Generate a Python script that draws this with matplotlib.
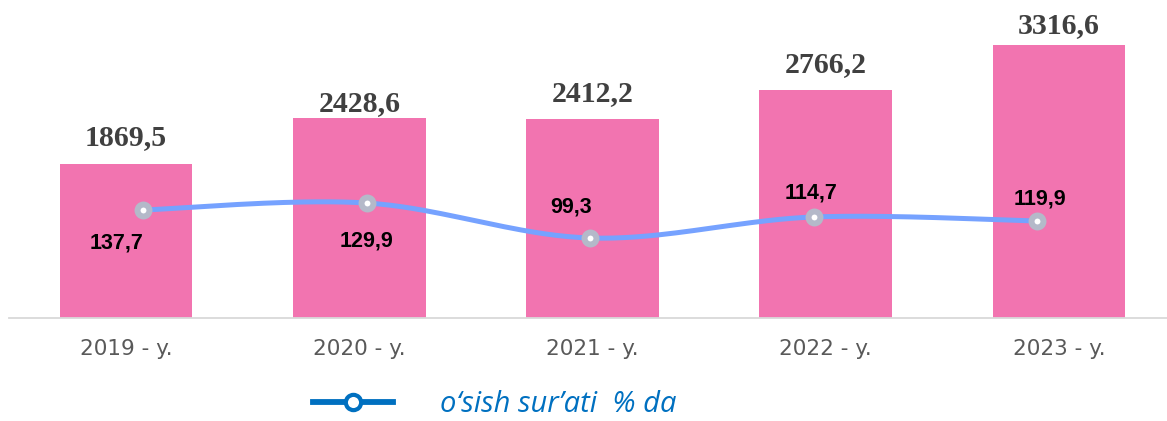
"""
Bar chart of yearly totals with a smoothed growth-rate line on top
"""
import numpy as np
import matplotlib
matplotlib.use("Agg")
import matplotlib.pyplot as plt
from matplotlib.lines import Line2D

# Data
years = ["2019 - y.", "2020 - y.", "2021 - y.", "2022 - y.", "2023 - y."]
totals = [1869.5, 2428.6, 2412.2, 2766.2, 3316.6]
growth = [137.7, 129.9, 99.3, 114.7, 119.9]
# height at which the growth line is drawn (its own hidden scale, 0-318)
growth_line = [108, 115, 80, 101, 97]

# label placement (pixels)
bar_label_gap = [19, 7, 18, 18, 12]
growth_label_off = [(-26, -38), (0, -43), (-19, 26), (-2, 18), (3, 16)]

W, H = 1167, 421
BAR_COLOR = "#F274B0"
LINE_COLOR = "#76A2FF"
MARKER_EDGE = "#B4B9C9"
LEGEND_BLUE = "#0070C0"


def catmull_rom(xs, ys, n=40):
    xs = np.asarray(xs, float)
    ys = np.asarray(ys, float)
    px = np.concatenate([[xs[0]], xs, [xs[-1]]])
    py = np.concatenate([[ys[0]], ys, [ys[-1]]])
    out_x, out_y = [], []
    t = np.linspace(0, 1, n)
    for i in range(1, len(px) - 2):
        for arr, out in ((px, out_x), (py, out_y)):
            p0, p1, p2, p3 = arr[i - 1], arr[i], arr[i + 1], arr[i + 2]
            out.extend(0.5 * (2 * p1 + (-p0 + p2) * t
                              + (2 * p0 - 5 * p1 + 4 * p2 - p3) * t ** 2
                              + (-p0 + 3 * p1 - 3 * p2 + p3) * t ** 3))
    return np.array(out_x), np.array(out_y)


fig = plt.figure(figsize=(W / 100, H / 100), dpi=100)
pos = [9.4 / W, 103 / H, 1166.2 / W, 318 / H]

# Bars
ax = fig.add_axes(pos)
x = np.arange(len(years))
ax.bar(x, totals, width=0.57, color=BAR_COLOR, zorder=2)
ax.set_xlim(-0.5, 4.5)
ax.set_ylim(0, 3860)
for s in ["top", "left", "right"]:
    ax.spines[s].set_visible(False)
ax.spines["bottom"].set_color("#D9D9D9")
ax.spines["bottom"].set_linewidth(1.3)
ax.set_yticks([])
ax.set_xticks(x)
ax.set_xticklabels(years, fontsize=15.5, color="#595959", family="DejaVu Sans")
ax.tick_params(axis="x", length=0, pad=15)

for xi, v, gap in zip(x, totals, bar_label_gap):
    ax.annotate(f"{v:.1f}".replace(".", ","), (xi, v), xytext=(0, gap),
                textcoords="offset pixels", ha="center", va="baseline",
                fontsize=21.5, fontweight="bold", color="#404040",
                family="Liberation Serif")

# Growth line on its own hidden axes
ax2 = fig.add_axes(pos)
ax2.patch.set_visible(False)
ax2.axis("off")
ax2.set_xlim(-0.598, 4.62)
ax2.set_ylim(0, 318)
sx, sy = catmull_rom(x, growth_line)
ax2.plot(sx, sy, color=LINE_COLOR, lw=3.6, solid_capstyle="round", zorder=3)
ax2.plot(x, growth_line, ls="none", marker="o", ms=8.6, mfc="white",
         mec=MARKER_EDGE, mew=4.3, zorder=4)
for xi, yi, g, (dx, dy) in zip(x, growth_line, growth, growth_label_off):
    ax2.annotate(f"{g:.1f}".replace(".", ","), (xi, yi), xytext=(dx, dy),
                 textcoords="offset pixels", ha="center", va="baseline",
                 fontsize=15.5, fontweight="bold", color="black",
                 family="Liberation Sans")

# Legend
handle = Line2D([], [], color=LEGEND_BLUE, lw=4.2, marker="o", ms=11,
                mfc="white", mec=LEGEND_BLUE, mew=3)
leg = fig.legend([handle], ["o\u2018sish sur\u2019ati  % da"],
                 loc="center left", bbox_to_anchor=(313 / W, 1 - 405 / H),
                 frameon=False, borderpad=0, borderaxespad=0,
                 handlelength=2.75, handletextpad=1.6,
                 prop={"family": "Open Sans", "style": "italic", "size": 21})
for t in leg.get_texts():
    t.set_color(LEGEND_BLUE)

fig.savefig("out.png", dpi=100)
